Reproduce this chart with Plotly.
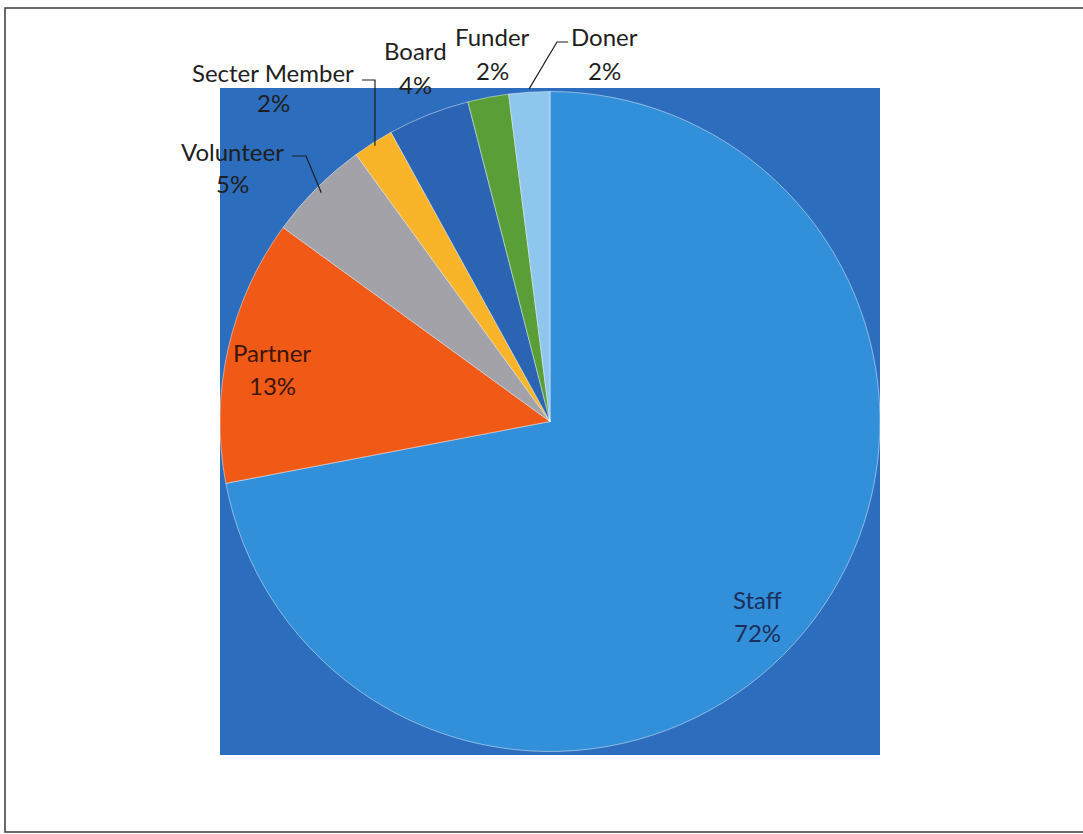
import math
import plotly.graph_objects as go

# Share of respondents by role (percent)
roles = ["Staff", "Partner", "Volunteer", "Secter Member", "Board", "Funder", "Doner"]
shares = [72, 13, 5, 2, 4, 2, 2]
colors = ["#3190d9", "#f05a16", "#a2a2a8", "#f9b42a", "#2c64b4", "#5a9e38", "#8ec6ee"]

W, H = 1083, 834
# pie box in pixels (left, top, right, bottom)
BOX = (220, 88, 880, 755)
FONT = "Lato"
FSIZE = 24


def px(x):
    return x / W


def py(y):
    return 1 - y / H


fig = go.Figure()
fig.add_trace(go.Pie(
    labels=roles,
    values=shares,
    sort=False,
    direction="clockwise",
    rotation=0,
    marker=dict(colors=colors, line=dict(color="rgba(255,255,255,0.45)", width=1)),
    textinfo="none",
    hoverinfo="label+percent",
    showlegend=False,
    domain=dict(x=[px(BOX[0]), px(BOX[2])], y=[py(BOX[3]), py(BOX[1])]),
))

# geometry of the pie, to anchor leader lines on the slice rims
cx = (BOX[0] + BOX[2]) / 2
cy = (BOX[1] + BOX[3]) / 2
r = min(BOX[2] - BOX[0], BOX[3] - BOX[1]) / 2
total = sum(shares)
mid_angle = {}
acc = 0
for name, v in zip(roles, shares):
    mid_angle[name] = (acc + v / 2) / total * 360
    acc += v


def rim(name, frac=1.0):
    a = math.radians(mid_angle[name])
    return cx + r * frac * math.sin(a), cy - r * frac * math.cos(a)


pct = {n: f"{round(v / total * 100)}%" for n, v in zip(roles, shares)}

annotations = []


def label(name, x, y, gap=33, color="#1e1e1e"):
    for text, yy in ((name, y), (pct[name], y + gap)):
        annotations.append(dict(x=px(x), y=py(yy), xref="paper", yref="paper", text=text,
                                showarrow=False, font=dict(family=FONT, size=FSIZE, color=color),
                                xanchor="center", yanchor="middle"))


label("Staff", 757, 599, color="#1c2f5a")
label("Partner", 272, 352, color="#3b1608")
label("Volunteer", 232, 152, gap=32)
label("Secter Member", 273, 72, gap=30)
label("Board", 415, 51, gap=33)
label("Funder", 492, 37, gap=33)
label("Doner", 604, 37, gap=33)

shapes = [
    # square backdrop behind the pie
    dict(type="rect", xref="paper", yref="paper", layer="below",
         x0=px(BOX[0]), x1=px(BOX[2]), y0=py(BOX[3]), y1=py(BOX[1]),
         fillcolor="#2d6dbd", line=dict(width=0)),
    # frame around the chart
    dict(type="rect", xref="paper", yref="paper", layer="above",
         x0=px(5), x1=px(1090), y0=py(832), y1=py(8),
         fillcolor="rgba(0,0,0,0)", line=dict(color="#3a3a3a", width=1.5)),
]


def leader(points):
    path = "M " + " L ".join(f"{px(x)},{py(y)}" for x, y in points)
    shapes.append(dict(type="path", xref="paper", yref="paper", path=path, layer="above",
                       line=dict(color="#1e1e1e", width=1.2)))


sx, sy = rim("Secter Member", 0.99)
leader([(362, 80), (375, 80), (sx, sy)])
vx, vy = rim("Volunteer", 0.98)
leader([(292, 156), (306, 156), (vx, vy)])
dx, dy = rim("Doner", 1.01)
leader([(568, 42), (557, 42), (dx, dy)])

fig.update_layout(
    width=W, height=H,
    margin=dict(l=0, r=0, t=0, b=0),
    paper_bgcolor="white",
    plot_bgcolor="white",
    annotations=annotations,
    shapes=shapes,
)

fig.write_html("out.html")
